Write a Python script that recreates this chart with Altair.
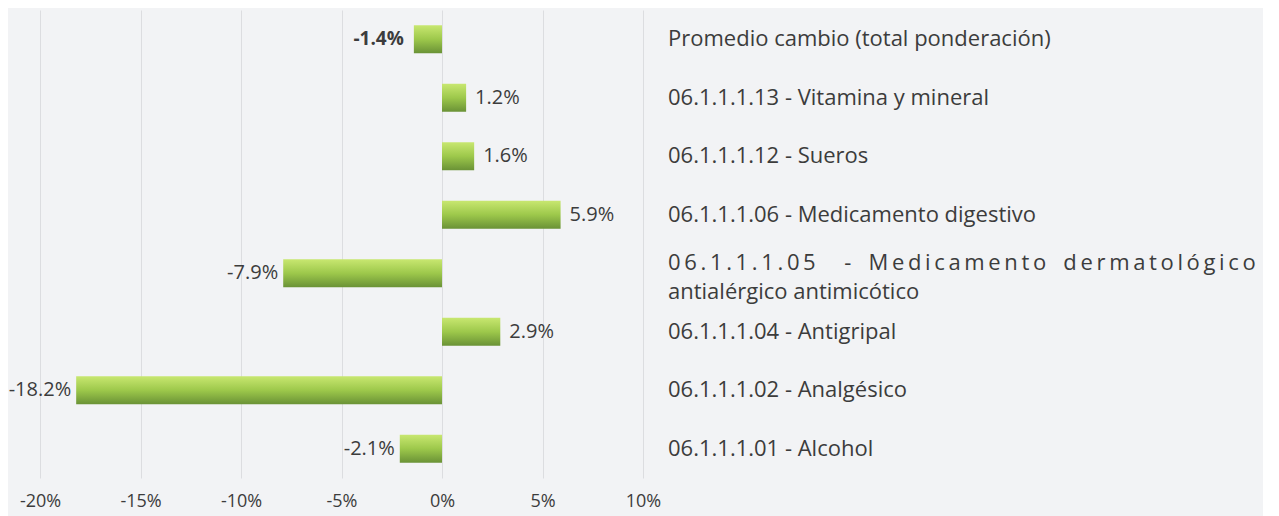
import altair as alt
import pandas as pd

TS = "\u2009"   # thin space (justified spacing of the wrapped label)
NB = "\u00a0"

categories = [
    "Promedio cambio (total ponderación)",
    "06.1.1.1.13 - Vitamina y mineral",
    "06.1.1.1.12 - Sueros",
    "06.1.1.1.06 - Medicamento digestivo",
    "06.1.1.1.05 - Medicamento dermatológico antialérgico antimicótico",
    "06.1.1.1.04 - Antigripal",
    "06.1.1.1.02 - Analgésico",
    "06.1.1.1.01 - Alcohol",
]
display_labels = [
    "Promedio cambio (total ponderación)",
    "06.1.1.1.13 - Vitamina y mineral",
    "06.1.1.1.12 - Sueros",
    "06.1.1.1.06 - Medicamento digestivo",
    TS.join("06.1.1.1.05") + NB * 5 + "-" + NB * 3 + TS.join("Medicamento")
    + NB * 3 + TS.join("dermatológico") + "\nantialérgico antimicótico",
    "06.1.1.1.04 - Antigripal",
    "06.1.1.1.02 - Analgésico",
    "06.1.1.1.01 - Alcohol",
]
values = [-1.4, 1.2, 1.6, 5.9, -7.9, 2.9, -18.2, -2.1]
value_labels = ["-1.4%", "1.2%", "1.6%", "5.9%", "-7.9%", "2.9%", "-18.2%", "-2.1%"]
bold_flags = [True, False, False, False, False, False, False, False]
tick_values = [-20, -15, -10, -5, 0, 5, 10]

df = pd.DataFrame({
    "cat": categories,
    "disp": display_labels,
    "value": values,
    "label": value_labels,
    "bold": bold_flags,
})

FONT = "Open Sans"
TEXT = "#3c3c3c"

x_scale = alt.Scale(domain=[-20, 10], nice=False, zero=False)
y_enc = alt.Y("cat:N", sort=categories, axis=None,
              scale=alt.Scale(paddingInner=0.52, paddingOuter=0.26))

base = alt.Chart(df)

grad = alt.Gradient(
    gradient="linear",
    stops=[alt.GradientStop(color="#c8e770", offset=0),
           alt.GradientStop(color="#9dc84b", offset=0.5),
           alt.GradientStop(color="#6a9236", offset=1)],
    x1=0, x2=0, y1=0, y2=1,
)

bars = base.mark_bar(color=grad, size=28).encode(
    x=alt.X("value:Q", scale=x_scale,
            axis=alt.Axis(values=tick_values, labelExpr="datum.value + '%'",
                          title=None, domain=False, ticks=False, labelFlush=False,
                          grid=True, gridColor="#dcdde0", gridWidth=1,
                          labelFont=FONT, labelFontSize=18, labelColor=TEXT,
                          labelPadding=14)),
    x2=alt.datum(0),
    y=y_enc,
)

pos_labels = base.transform_filter("datum.value >= 0").mark_text(
    align="left", baseline="middle", dx=9, font=FONT, fontSize=20, color=TEXT
).encode(x="value:Q", y=y_enc, text="label:N")

neg_labels = base.transform_filter("datum.value < 0 && !datum.bold").mark_text(
    align="right", baseline="middle", dx=-5, font=FONT, fontSize=20, color=TEXT
).encode(x="value:Q", y=y_enc, text="label:N")

neg_bold = base.transform_filter("datum.value < 0 && datum.bold").mark_text(
    align="right", baseline="middle", dx=-10, font=FONT, fontSize=19, color=TEXT,
    fontWeight="bold"
).encode(x="value:Q", y=y_enc, text="label:N")

cat_single = base.transform_filter("indexof(datum.disp, '\\n') < 0").mark_text(
    align="left", baseline="middle", font=FONT, fontSize=22, color=TEXT,
).encode(x=alt.value(628), y=y_enc, text="disp:N")

cat_multi = base.transform_filter("indexof(datum.disp, '\\n') >= 0").mark_text(
    align="left", baseline="middle", font=FONT, fontSize=22, color=TEXT,
    lineBreak="\n", lineHeight=29, dy=-10,
).encode(x=alt.value(628), y=y_enc, text="disp:N")

chart = alt.layer(bars, pos_labels, neg_labels, neg_bold, cat_single, cat_multi).properties(
    width=603, height=468,
    background="#f2f3f5",
    padding={"left": 32, "top": 2, "right": 620, "bottom": 38},
    autosize=alt.AutoSizeParams(type="none"),
).configure_view(stroke=None)

chart.save("out.html", embed_options={"renderer": "svg", "actions": False})
